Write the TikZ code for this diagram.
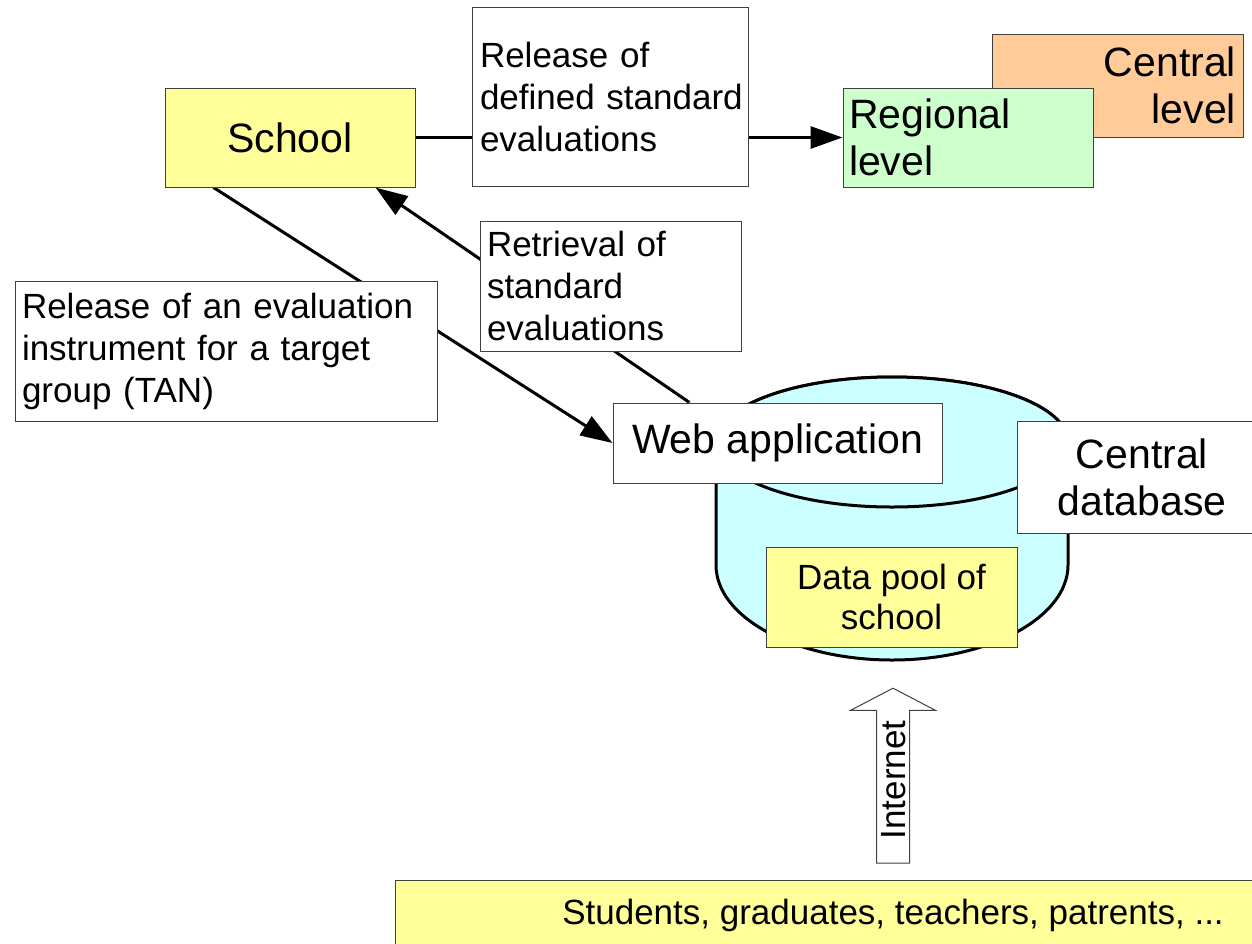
\documentclass[tikz,border=0pt]{standalone}
\usepackage{fontspec}
\setmainfont{Liberation Sans}
\usetikzlibrary{positioning,shapes.arrows,arrows.meta,backgrounds}

\definecolor{yellowfill}{HTML}{FFFF99}
\definecolor{greenfill}{HTML}{CCFFCC}
\definecolor{orangefill}{HTML}{FFCC99}
\definecolor{drumfill}{HTML}{CCFFFF}
\newcommand{\boxfont}{\fontsize{20.5}{23.5}\selectfont}
\newcommand{\notefont}{\fontsize{17.5}{21}\selectfont}

\tikzset{
  box/.style={draw=black!75, line width=0.5pt, rectangle, inner sep=3pt, font=\boxfont},
  notebox/.style={box, fill=white, align=left, inner ysep=2pt, font=\notefont},
  drum/.style={draw, line width=1.5pt, fill=drumfill},
  edgearrow/.style={line width=1.5pt, -{Triangle[length=16pt,width=11pt]}},
}

\begin{document}
\begin{tikzpicture}[x=0.5pt,y=-0.5pt]
    \useasboundingbox (0,0) rectangle (1252,943);
    \clip (0,0) rectangle (1252,943);
    % central database drum
    \draw[drum] (716,442) -- (716,565) arc[start angle=180,end angle=360,x radius=88pt,y radius=47.5pt]
        -- (1068,442) arc[start angle=0,end angle=180,x radius=88pt,y radius=32.5pt] -- cycle;
    \draw[drum] (892,442) ellipse[x radius=88pt,y radius=32.5pt];

    \node[box, fill=yellowfill, minimum width=125pt, minimum height=49.5pt] (school) at (290,137.5) {School};
    \node[notebox, text width=130pt, inner xsep=4pt, minimum height=89.5pt] (release) at (610,96.5) {Release of\\ \mbox{defined standard}\\ evaluations};
    \node[box, fill=orangefill, align=right, text width=118.5pt, inner xsep=3.5pt, minimum height=51.5pt] (central) at (1117.5,85.5) {Central\\ level};
    \node[box, fill=greenfill, align=left, text width=119pt, minimum height=49.5pt, right=213.5pt of school] (regional) {Regional\\ level};
    \node[notebox, text width=123.5pt, inner xsep=3.5pt, minimum height=65pt] (retrieval) at (610.5,286) {Retrieval of\\ standard\\ evaluations};
    \node[notebox, text width=204pt, inner xsep=3.5pt, minimum height=70pt] (instrument) at (226,351) {Release of an evaluation\\ instrument for a target\\ group (TAN)};
    \node[box, fill=white, minimum width=164.5pt, minimum height=40pt] (webapp) at (777.5,443) {Web application};
    \node[box, fill=white, align=center, minimum width=125pt, minimum height=56pt] (database) at (1142,477) {Central\\ database};
    \node[box, fill=yellowfill, align=center, font=\fontsize{17.5}{20}\selectfont, minimum width=125.5pt, minimum height=50pt] (datapool) at (891.5,597) {Data pool of\\ school};
    \node[box, fill=yellowfill, font=\notefont, minimum width=498pt, minimum height=35pt] (people) at (893,915) {Students, graduates, teachers, patrents, ...};
    \node[single arrow, draw=black!75, line width=0.5pt, fill=white, rotate=90, font=\notefont, text height=12.5pt, text depth=0pt,
          inner xsep=2pt, inner ysep=1.75pt, single arrow head extend=13pt, single arrow tip angle=125, minimum height=87.5pt] (internet) at (893,780) {Internet};

    \begin{scope}[on background layer]
        \draw[edgearrow] (school) -- (regional);
        \draw[edgearrow] ([xshift=24.5pt]school.south west) -- (webapp.west);
        \draw[edgearrow] ([xshift=38.5pt]webapp.north west) -- ([xshift=-20pt]school.south east);
    \end{scope}
\end{tikzpicture}
\end{document}
